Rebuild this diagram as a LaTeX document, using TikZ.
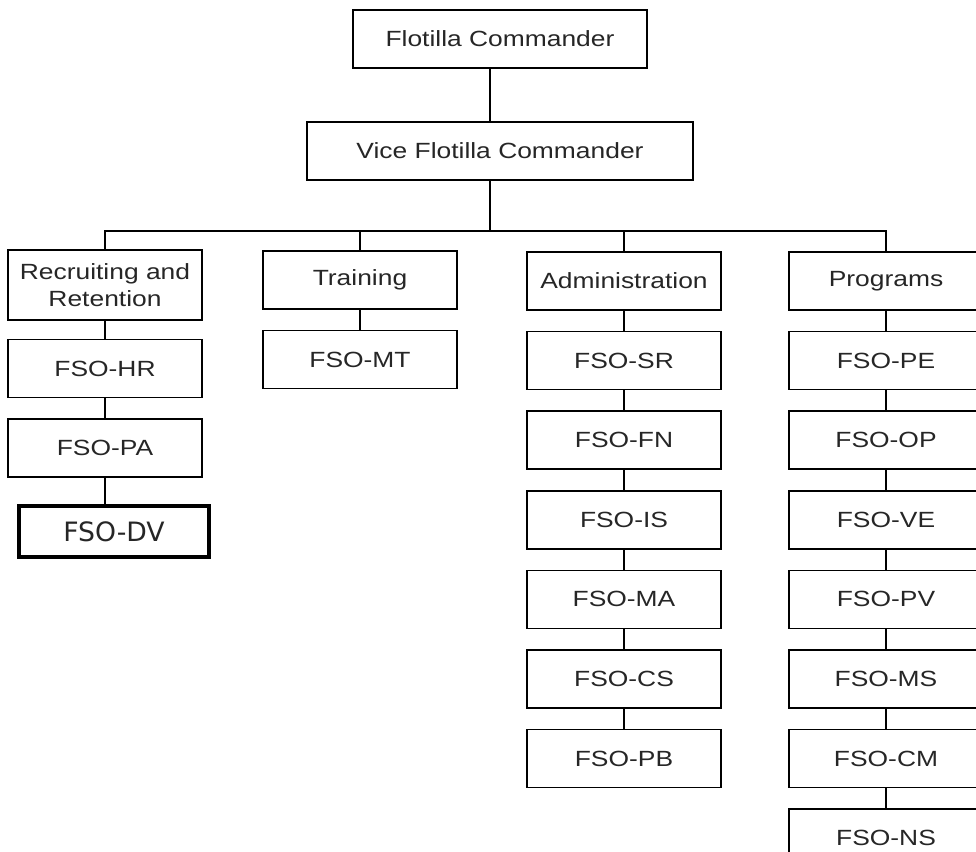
\documentclass[tikz,border=0pt]{standalone}
\usepackage{fontspec}
\setmainfont[FakeStretch=1.2]{Liberation Sans}
\newfontfamily\dvfont{DejaVu Sans}
\usetikzlibrary{positioning}

\begin{document}
\begin{tikzpicture}[x=0.75pt,y=-0.75pt,node distance=15pt,line width=1.2pt,
                    font=\fontsize{16.5}{19.8}\selectfont]
\tikzstyle{office}=[draw=black,text=black!85,align=center,inner sep=0pt,
                    minimum width=145.5pt,minimum height=43.5pt]
\tikzstyle{newoffice}=[office,line width=3pt,minimum width=142.5pt,
                       minimum height=38pt,font=\dvfont\fontsize{20}{24}\selectfont]

\useasboundingbox (0,0) rectangle (976,852);

\node[office]	(fc)	at (500,39)	[minimum width=220.5pt]	{Flotilla Commander};
\node[office]	(vfc)	at (500,151)	[minimum width=289.5pt]	{Vice Flotilla Commander};
\coordinate	(bus)	at (490,231);

% recruiting and retention
\node[office]	(rr)	at (105,285)	[minimum height=52.5pt]	{Recruiting and\\Retention};
\node[office]	(hr)	[below=13.5pt of rr]	{FSO-HR};
\node[office]	(pa)	[below=of hr]	{FSO-PA};
\node[newoffice]	(dv)	at (114,531.5)	{FSO-DV};

% training
\node[office]	(tr)	at (360,280)	{Training};
\node[office]	(mt)	[below=of tr]	{FSO-MT};

% administration
\node[office]	(ad)	at (624,281)	{Administration};
\node[office]	(sr)	[below=of ad]	{FSO-SR};
\node[office]	(fn)	[below=of sr]	{FSO-FN};
\node[office]	(is)	[below=of fn]	{FSO-IS};
\node[office]	(ma)	[below=of is]	{FSO-MA};
\node[office]	(cs)	[below=of ma]	{FSO-CS};
\node[office]	(pb)	[below=of cs]	{FSO-PB};

% programs
\node[office]	(pg)	at (886,281)	{Programs};
\node[office]	(pe)	[below=of pg]	{FSO-PE};
\node[office]	(op)	[below=of pe]	{FSO-OP};
\node[office]	(ve)	[below=of op]	{FSO-VE};
\node[office]	(pv)	[below=of ve]	{FSO-PV};
\node[office]	(ms)	[below=of pv]	{FSO-MS};
\node[office]	(cm)	[below=of ms]	{FSO-CM};
\node[office]	(ns)	[below=of cm]	{FSO-NS};

\draw (fc.south -| bus) -- (vfc.north -| bus);
\draw (vfc.south -| bus) -- (bus);
\draw (rr.north) |- (pg.north |- bus) -- (pg.north);
\draw (tr.north) -- (tr.north |- bus);
\draw (ad.north) -- (ad.north |- bus);

\path	(rr)	edge	(hr)
	(hr)	edge	(pa)
	(tr)	edge	(mt)
	(ad)	edge	(sr)
	(sr)	edge	(fn)
	(fn)	edge	(is)
	(is)	edge	(ma)
	(ma)	edge	(cs)
	(cs)	edge	(pb)
	(pg)	edge	(pe)
	(pe)	edge	(op)
	(op)	edge	(ve)
	(ve)	edge	(pv)
	(pv)	edge	(ms)
	(ms)	edge	(cm)
	(cm)	edge	(ns);
\draw[line width=2.2pt] (pa.south) -- (pa.south |- dv.north);

\end{tikzpicture}
\end{document}
